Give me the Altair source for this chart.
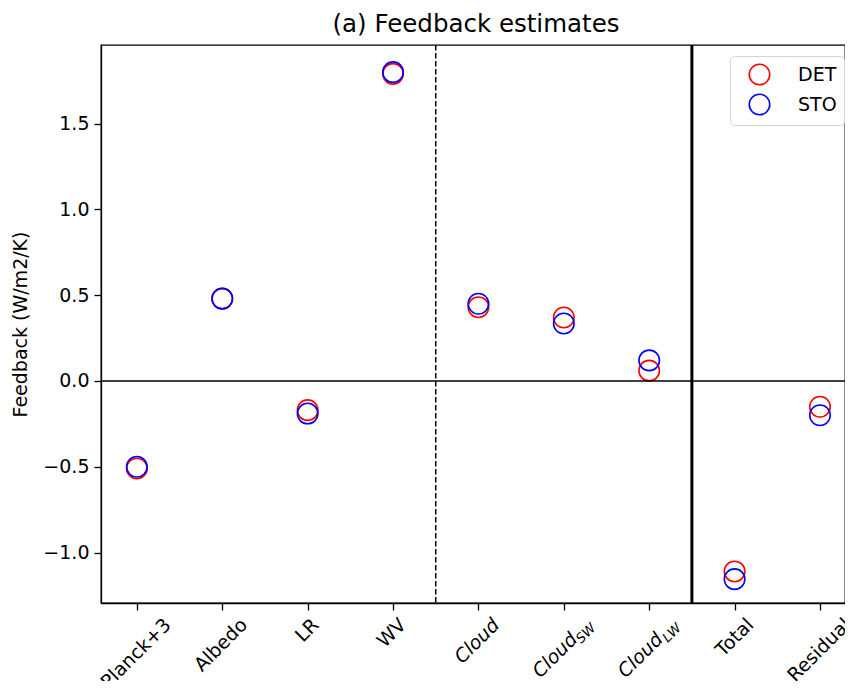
import json
import altair as alt
import pandas as pd

# ---------------- data ----------------
categories = ["Planck+3", "Albedo", "LR", "WV", "Cloud", "CloudSW", "CloudLW", "Total", "Residual"]
positions = [0, 1, 2, 3, 4, 5, 6, 7, 8]
det_values = [-0.51, 0.48, -0.17, 1.79, 0.43, 0.37, 0.06, -1.11, -0.15]
sto_values = [-0.50, 0.48, -0.19, 1.80, 0.45, 0.335, 0.12, -1.155, -0.20]
series_names = ["DET", "STO"]
series_colors = ["#ff0000", "#0000ff"]
# axis tick labels (the two subscripted ones are drawn as text marks)
tick_labels = ["Planck+3", "Albedo", "LR", "WV", "Cloud", "", "", "Total", "Residual"]
subscript_positions = [5, 6]
subscript_bases = ["Cloud", "Cloud"]
subscript_labels = ["SW", "LW"]
y_ticks = [-1.0, -0.5, 0.0, 0.5, 1.0, 1.5]
x_domain = [-0.42, 8.293]
y_domain = [-1.294, 1.958]
hline_value = 0.0
dashed_vline = 3.5
solid_vline = 6.5

rows = []
for s, vals in zip(series_names, [det_values, sto_values]):
    for p, c, v in zip(positions, categories, vals):
        rows.append({"pos": p, "category": c, "value": v, "series": s})
df = pd.DataFrame(rows)
sub_df = pd.DataFrame({"pos": subscript_positions, "base": subscript_bases, "label": subscript_labels})
one = pd.DataFrame({"k": [0]})

# ---------------- style ----------------
W, H = 744, 558
FONT = "DejaVu Sans"
FS = 19
SUBFS = 13.3
TICK = 7
LPAD = 5
label_offsets = [24, 15, 1, 3, 11, 19, 19, 9, 21]
SUB_OFF = 19

xscale = alt.Scale(domain=x_domain, nice=False, zero=False)
yscale = alt.Scale(domain=y_domain, nice=False, zero=False)

label_expr = "[" + ",".join(json.dumps(l) for l in tick_labels) + "][datum.value]"
offset_cond = {
    "condition": [{"test": f"datum.value == {i}", "value": o} for i, o in enumerate(label_offsets)],
    "value": 0,
}
italic_cond = {
    "condition": {"test": "datum.value >= 4 && datum.value <= 6", "value": "italic"},
    "value": "normal",
}

x_axis = alt.Axis(
    values=positions, labelExpr=label_expr, labelAngle=-45, labelAlign="right",
    labelBaseline="top", labelOffset=offset_cond, labelFontStyle=italic_cond,
    labelFontSize=FS, labelFont=FONT, labelColor="black", labelPadding=LPAD,
    tickSize=TICK, tickWidth=1.3, tickColor="black", domainColor="black",
    domainWidth=1.3, grid=False, title=None, labelOverlap=False, labelFlush=False,
    labelBound=False,
)
y_axis = alt.Axis(
    values=y_ticks, format=".1f", labelFontSize=FS, labelFont=FONT, labelColor="black",
    tickSize=TICK, tickWidth=1.3, tickColor="black", domainColor="black", domainWidth=1.3,
    labelPadding=5, grid=False, title="Feedback (W/m2/K)", titleFontSize=FS,
    titleFont=FONT, titleFontWeight="normal", titleColor="black", titlePadding=12,
)

zero_line = alt.Chart(one).mark_rule(color="black", strokeWidth=1.5).encode(
    y=alt.datum(hline_value)
)
dash_line = alt.Chart(one).mark_rule(
    color="black", strokeWidth=1.5, strokeDash=[5.5, 2.5]
).encode(x=alt.datum(dashed_vline))
solid_line = alt.Chart(one).mark_rule(color="black", strokeWidth=3).encode(
    x=alt.datum(solid_vline)
)

points = alt.Chart(df).mark_point(filled=False, size=420, strokeWidth=1.6, opacity=1).encode(
    x=alt.X("pos:Q", scale=xscale, axis=x_axis),
    y=alt.Y("value:Q", scale=yscale, axis=y_axis),
    color=alt.Color(
        "series:N",
        scale=alt.Scale(domain=series_names, range=series_colors),
        legend=alt.Legend(
            title=None, orient="none", legendX=629, legendY=11, fillColor="white",
            strokeColor="#d5d5d5", cornerRadius=4, padding=7, labelFontSize=FS,
            labelFont=FONT, labelColor="black", symbolSize=420, symbolStrokeWidth=1.6,
            symbolType="circle", rowPadding=3, labelOffset=27, symbolOffset=11,
        ),
    ),
)

base_text = alt.Chart(sub_df).mark_text(
    angle=315, align="right", baseline="top", fontSize=FS, fontStyle="italic",
    font=FONT, color="black", xOffset=SUB_OFF, yOffset=TICK + LPAD, dx=-21,
).encode(
    x=alt.X("pos:Q"),
    y=alt.datum(y_domain[0]),
    text="base:N",
)

subs = alt.Chart(sub_df).mark_text(
    angle=315, align="right", baseline="top", fontSize=SUBFS, fontStyle="italic",
    font=FONT, color="black", xOffset=SUB_OFF, yOffset=TICK + LPAD, dx=0, dy=8.5,
).encode(
    x=alt.X("pos:Q"),
    y=alt.datum(y_domain[0]),
    text="label:N",
)

chart = alt.layer(points, zero_line, dash_line, solid_line, base_text, subs).properties(
    width=W, height=H,
    title=alt.Title("(a) Feedback estimates", fontSize=24.5, font=FONT, fontWeight="normal",
                    color="black", offset=6, anchor="middle", dx=3),
    autosize=alt.AutoSizeParams(type="none"),
    padding={"left": 93, "top": 37, "right": 0, "bottom": 78},
).configure(font=FONT).configure_view(stroke="black", strokeWidth=1.3)

chart.save("out.html", embed_options={"renderer": "svg", "actions": False})
